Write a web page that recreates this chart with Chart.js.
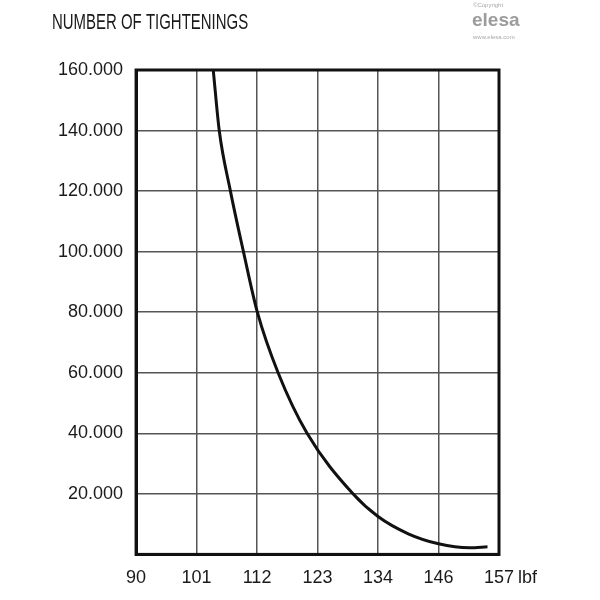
<!DOCTYPE html>
<html>
<head>
<meta charset="utf-8">
<script src="https://cdn.jsdelivr.net/npm/chart.js@4.4.0/dist/chart.umd.min.js"></script>
<style>
  body { margin: 0; background: #fff; }
  #wrap { width: 600px; height: 600px; }
</style>
</head>
<body>
<div id="wrap"><canvas id="myChart"></canvas></div>
<script>
var xTickLabels = ["90", "101", "112", "123", "134", "146", "157"];
var xUnit = "lbf";
var xPos = [1.276, 1.375, 1.56, 1.775, 2.005, 2.348, 2.827, 3.586, 4.0, 4.5, 5.0, 5.51, 5.81];
var tightenings = [160000, 140000, 120000, 100000, 80000, 60000, 40000, 20000, 12500, 6800, 3500, 2200, 2500];
var yTicks = [0, 20000, 40000, 60000, 80000, 100000, 120000, 140000, 160000];

var points = xPos.map(function (x, i) { return { x: x, y: tightenings[i] }; });
var fontName = "'Liberation Sans', Arial, sans-serif";

var extras = {
  id: "extras",
  afterDraw: function (chart) {
    var ctx = chart.ctx;
    var a = chart.chartArea;
    ctx.save();
    // frame round the plot
    ctx.strokeStyle = "#111";
    ctx.lineWidth = 3;
    ctx.strokeRect(a.left, a.top, a.right - a.left, a.bottom - a.top);

    // unit after the last x label
    var xs = chart.scales.x;
    ctx.fillStyle = "#1a1a1a";
    ctx.font = "18px " + fontName;
    ctx.textBaseline = "middle";
    ctx.textAlign = "left";
    ctx.fillText(xUnit, xs.getPixelForValue(6) + 19, a.bottom + 13 + 11);

    // title
    ctx.save();
    ctx.translate(52, 23);
    ctx.scale(0.68, 1);
    ctx.font = "22px " + fontName;
    ctx.fillText("NUMBER OF TIGHTENINGS", 0, 0);
    ctx.restore();

    // logo
    ctx.fillStyle = "#a8a8a8";
    ctx.font = "6px " + fontName;
    ctx.fillText("\u00A9Copyright", 473, 5);
    ctx.fillText("www.elesa.com", 473, 37);
    ctx.font = "bold 19px " + fontName;
    ctx.fillStyle = "#9c9c9c";
    ctx.fillText("elesa", 472, 21);
    ctx.restore();
  }
};

new Chart("myChart", {
  type: "scatter",
  data: {
    datasets: [{
      data: points,
      showLine: true,
      borderColor: "#111",
      borderWidth: 3,
      pointRadius: 0,
      cubicInterpolationMode: "monotone",
      fill: false
    }]
  },
  options: {
    responsive: true,
    maintainAspectRatio: false,
    animation: false,
    layout: {
      padding: { left: 45, right: 101, top: 70, bottom: -2 }
    },
    plugins: {
      legend: { display: false },
      tooltip: { enabled: false }
    },
    scales: {
      x: {
        type: "linear",
        min: 0,
        max: 6,
        afterBuildTicks: function (scale) {
          scale.ticks = xTickLabels.map(function (l, i) { return { value: i }; });
        },
        ticks: {
          padding: 13,
          color: "#1a1a1a",
          font: { family: fontName, size: 18 },
          maxRotation: 0,
          callback: function (v) { return xTickLabels[v]; }
        },
        grid: { color: "#555", lineWidth: 1.5, drawTicks: false },
        border: { display: true, color: "#111", width: 3 }
      },
      y: {
        min: 0,
        max: 160000,
        afterBuildTicks: function (scale) {
          scale.ticks = yTicks.map(function (v) { return { value: v }; });
        },
        ticks: {
          padding: 13,
          color: "#1a1a1a",
          font: { family: fontName, size: 18 },
          callback: function (v) {
            if (v === 0) return "";
            return (v / 1000).toFixed(0) + ".000";
          }
        },
        grid: { color: "#555", lineWidth: 1.5, drawTicks: false },
        border: { display: true, color: "#111", width: 3 }
      }
    }
  },
  plugins: [extras]
});
</script>
</body>
</html>
